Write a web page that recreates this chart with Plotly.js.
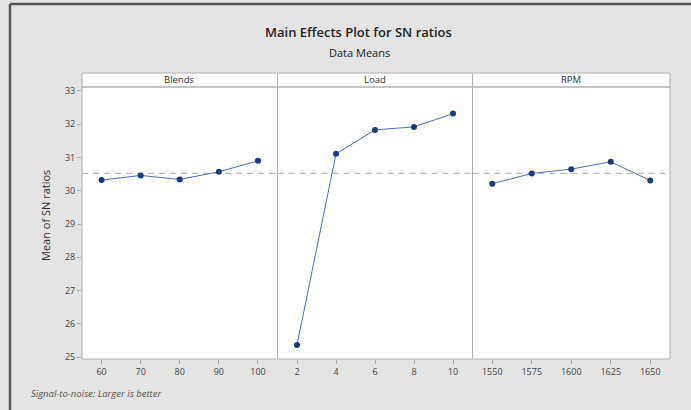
<!DOCTYPE html>
<html>
<head>
<meta charset="utf-8">
<script src="https://cdn.plot.ly/plotly-3.0.1.min.js"></script>
<style>html,body{margin:0;padding:0;background:#e4e4e4;}#chart{width:691px;height:410px;}</style>
</head>
<body>
<div id="chart"></div>
<script>
// Data
const factors = ["Blends", "Load", "RPM"];
const blendsLevels = ["60", "70", "80", "90", "100"];
const blendsMeans = [30.32, 30.46, 30.34, 30.57, 30.90];
const loadLevels = ["2", "4", "6", "8", "10"];
const loadMeans = [25.36, 31.11, 31.83, 31.92, 32.32];
const rpmLevels = ["1550", "1575", "1600", "1625", "1650"];
const rpmMeans = [30.21, 30.52, 30.65, 30.87, 30.31];
const grandMean = 30.52;
const yTicks = [25, 26, 27, 28, 29, 30, 31, 32, 33];

const W = 691, H = 410;
const px = v => v / W;
const py = v => 1 - v / H;
const panels = [[82, 277.5], [277.5, 472.5], [472.5, 670]];
const plotTop = 87, plotBot = 359, stripTop = 73;

const levels = [blendsLevels, loadLevels, rpmLevels];
const means = [blendsMeans, loadMeans, rpmMeans];
const lineColor = "#4f6ea8";
const markerColor = "#1d3b78";

const traces = [];
const axName = ["x", "x2", "x3"];
for (let i = 0; i < 3; i++) {
  traces.push({
    type: "scatter", mode: "lines+markers",
    x: levels[i], y: means[i],
    xaxis: axName[i], yaxis: "y",
    line: {color: lineColor, width: 1},
    marker: {color: markerColor, size: 6},
    hoverinfo: "x+y", showlegend: false
  });
}

const tickFont = {family: "Open Sans, sans-serif", size: 9, color: "#444"};
function xax(i) {
  return {
    domain: [px(panels[i][0]), px(panels[i][1])],
    anchor: "y", type: "category", range: [-0.5, 4.5],
    showgrid: false, zeroline: false, showline: false,
    ticks: "outside", ticklen: 4, tickcolor: "#aaa",
    tickfont: tickFont, fixedrange: true
  };
}

const shapes = [];
const annotations = [];
for (let i = 0; i < 3; i++) {
  // grand mean reference line (dashed)
  shapes.push({type: "line", xref: axName[i], yref: "y",
    x0: -0.5, x1: 4.5, y0: grandMean, y1: grandMean,
    line: {color: "#b8b8b8", width: 1.2, dash: "6px,5px"}, layer: "below"});
  // plot panel border
  shapes.push({type: "rect", xref: "paper", yref: "paper",
    x0: px(panels[i][0]), x1: px(panels[i][1]), y0: py(plotBot), y1: py(plotTop),
    line: {color: "#b0b0b0", width: 1}, fillcolor: "rgba(0,0,0,0)", layer: "above"});
  // strip
  shapes.push({type: "rect", xref: "paper", yref: "paper",
    x0: px(panels[i][0]), x1: px(panels[i][1]), y0: py(plotTop), y1: py(stripTop),
    line: {color: "#b0b0b0", width: 1}, fillcolor: "#ffffff", layer: "below"});
  annotations.push({xref: "paper", yref: "paper",
    x: px((panels[i][0] + panels[i][1]) / 2), y: py((plotTop + stripTop) / 2),
    text: factors[i], showarrow: false, xanchor: "center", yanchor: "middle",
    font: {family: "Open Sans, sans-serif", size: 9.5, color: "#333"}});
}
// outer image frame (top and left)
shapes.push({type: "line", xref: "paper", yref: "paper", x0: px(10), x1: 1, y0: py(4), y1: py(4),
  line: {color: "#555", width: 2.5}});
shapes.push({type: "line", xref: "paper", yref: "paper", x0: px(10), x1: px(10), y0: 0, y1: py(4),
  line: {color: "#555", width: 2.5}});

annotations.push({xref: "paper", yref: "paper", x: px(358), y: py(32),
  text: "Main Effects Plot for SN ratios", showarrow: false, xanchor: "center", yanchor: "middle",
  font: {family: "Open Sans, sans-serif", size: 13, color: "#222", weight: 600}});
annotations.push({xref: "paper", yref: "paper", x: px(359), y: py(52),
  text: "Data Means", showarrow: false, xanchor: "center", yanchor: "middle",
  font: {family: "Open Sans, sans-serif", size: 11, color: "#222"}});
annotations.push({xref: "paper", yref: "paper", x: px(45), y: py(216),
  text: "Mean of SN ratios", showarrow: false, textangle: -90, xanchor: "center", yanchor: "middle",
  font: {family: "Open Sans, sans-serif", size: 11, color: "#333"}});
annotations.push({xref: "paper", yref: "paper", x: px(29), y: py(393),
  text: "<i>Signal-to-noise: Larger is better</i>", showarrow: false, xanchor: "left", yanchor: "middle",
  font: {family: "Open Sans, sans-serif", size: 9.5, color: "#555"}});

const layout = {
  width: W, height: H,
  margin: {l: 0, r: 0, t: 0, b: 0},
  paper_bgcolor: "#e4e4e4", plot_bgcolor: "#ffffff",
  xaxis: xax(0), xaxis2: xax(1), xaxis3: xax(2),
  yaxis: {
    domain: [py(plotBot), py(plotTop)], anchor: "x",
    range: [24.94, 33.12], tickvals: yTicks, ticktext: yTicks.map(String),
    showgrid: false, zeroline: false, showline: false,
    ticks: "outside", ticklen: 4, tickcolor: "#aaa",
    tickfont: tickFont, fixedrange: true
  },
  shapes: shapes, annotations: annotations, showlegend: false
};
Plotly.newPlot("chart", traces, layout, {staticPlot: true, displayModeBar: false});
</script>
</body>
</html>
